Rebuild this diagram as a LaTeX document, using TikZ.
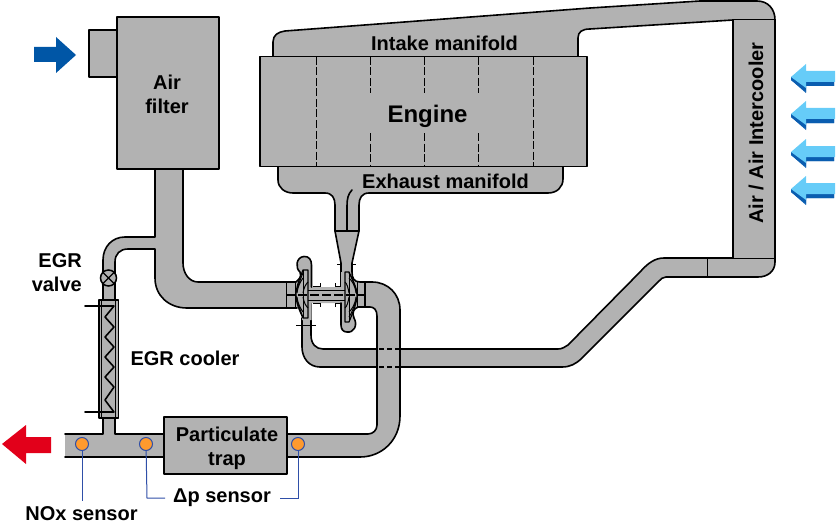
\documentclass[tikz,border=0pt]{standalone}
\usepackage{fontspec}
\setmainfont{Liberation Sans}
\definecolor{pg}{HTML}{B2B2B2}
\definecolor{dblue}{HTML}{0056A6}
\definecolor{lblue}{HTML}{66CCF8}
\definecolor{mblue}{HTML}{0A5DB0}
\definecolor{redarrow}{HTML}{E2001A}
\definecolor{sensorfill}{HTML}{FF9A2E}
\definecolor{sensorline}{HTML}{2F4FA8}
\tikzset{
  pipefill/.style={fill=pg,draw=none},
  edge/.style={draw=black,line width=1.6pt,line cap=round,line join=round},
  thinedge/.style={draw=black,line width=1pt,line cap=butt},
  boxed/.style={fill=pg,draw=black,line width=1.8pt,line join=round,outer sep=0pt},
  dashline/.style={draw=black,line width=1pt,dash pattern=on 8pt off 2.5pt},
  lab/.style={font=\fontsize{20}{23}\selectfont\bfseries,text=black,inner sep=0pt,align=center},
  sensor/.style={circle,fill=sensorfill,draw=sensorline,line width=1pt,minimum size=13pt,inner sep=0pt},
  leadline/.style={draw=sensorline,line width=1pt},
}
\newcommand{\coldarrow}[1]{%
  \fill[mblue,shift={(0,#1)}] (791,0) -- (791,3) -- (806,16) -- (806,5) -- (834,5) -- (834,9) -- (806,9) -- (806,15) -- cycle;
  \fill[mblue,shift={(0,#1)}] (791,0) -- (806,0) -- (834,0) -- (834,9) -- (806,9) -- (806,15) -- (791,3) -- cycle;
  \fill[lblue,shift={(0,#1)}] (791,0) -- (806,-13) -- (806,-6) -- (835,-6) -- (835,5) -- (806,5) -- (806,11) -- cycle;
}
\begin{document}
\begin{tikzpicture}[x=1pt,y=-1pt]
\useasboundingbox (0,0) rectangle (837,524);

% ---- intake manifold, intercooler, charge-air pipe
\fill[pipefill] (273,57) -- (273,42) .. controls (273,35) and (278,32) .. (285,31) -- (590,8) -- (700,1) -- (757,1)
  .. controls (768,1) and (775,9) .. (775,20) -- (775,262) .. controls (775,271) and (768,277) .. (758,277)
  -- (666,277) .. controls (663,277) and (661,279) .. (659,281) -- (582,358) .. controls (576,364) and (570,367) .. (562,367)
  -- (320,367) .. controls (309,367) and (302,358) .. (302,347) -- (302,318) -- (311,318) -- (311,335)
  .. controls (311,344) and (316,349) .. (323,349) -- (558,349) .. controls (562,349) and (565,347) .. (568,345)
  -- (640,272) .. controls (648,263) and (655,258) .. (664,258) -- (733,258) -- (733,20) -- (590,29)
  .. controls (582,29) and (578,32) .. (578,38) -- (578,57) -- cycle;
\draw[edge] (273,57) -- (273,42) .. controls (273,35) and (278,32) .. (285,31) -- (590,8) -- (700,1) -- (757,1)
  .. controls (768,1) and (775,9) .. (775,20) -- (775,262) .. controls (775,271) and (768,277) .. (758,277)
  -- (666,277) .. controls (663,277) and (661,279) .. (659,281) -- (582,358) .. controls (576,364) and (570,367) .. (562,367)
  -- (320,367) .. controls (309,367) and (302,358) .. (302,347) -- (302,318);
\draw[edge] (311,303) -- (311,335)
  .. controls (311,344) and (316,349) .. (323,349) -- (558,349) .. controls (562,349) and (565,347) .. (568,345)
  -- (640,272) .. controls (648,263) and (655,258) .. (664,258) -- (733,258) -- (733,20) -- (590,29)
  .. controls (582,29) and (578,32) .. (578,38) -- (578,57);
\draw[thinedge] (733,20) -- (775,20) (733,258) -- (775,258) (707,258) -- (707,277);

% ---- exhaust manifold and turbine inlet
\fill[pipefill] (278,166) -- (278,180) .. controls (278,188) and (285,193) .. (293,193) -- (325,193)
  .. controls (332,193) and (335,198) .. (335,205) -- (335,231) -- (341,263) -- (341,290) -- (352,290) -- (352,263) -- (359,231)
  -- (359,205) .. controls (359,198) and (362,193) .. (369,193) -- (548,193) .. controls (557,193) and (563,187) .. (563,179) -- (563,166) -- cycle;
\draw[edge] (278,166) -- (278,180) .. controls (278,188) and (285,193) .. (293,193) -- (325,193)
  .. controls (332,193) and (335,198) .. (335,205) -- (335,231) -- (341,263) -- (341,287);
\draw[edge] (563,166) -- (563,179) .. controls (563,187) and (557,193) .. (548,193) -- (369,193)
  .. controls (362,193) and (359,198) .. (359,205) -- (359,231) -- (352,263) -- (352,272);
\draw[edge] (335,231) -- (359,231);
\draw[edge] (352,190) .. controls (348,194) and (347,199) .. (347,206) -- (347,231);
\draw[thinedge] (337,264) -- (341,264) (352,264) -- (356,264);

% ---- engine
\node[boxed,minimum width=327pt,minimum height=110pt,anchor=north west,inner sep=0pt] (engine) at (260,56.5) {};
\foreach \dx in {316,533} \draw[dashline] (\dx,57) -- (\dx,166);
\foreach \dx in {370,424,478} {\draw[dashline] (\dx,57) -- (\dx,93); \draw[dashline] (\dx,133) -- (\dx,166);}

% ---- air filter
\node[boxed,minimum width=28pt,minimum height=47pt,anchor=north west,inner sep=0pt] (snout) at (89,30) {};
\fill[pipefill] (155,169) -- (155,237) -- (125,237) .. controls (112,237) and (103,247) .. (103,260) -- (103,300) -- (115,300)
  -- (115,262) .. controls (115,254) and (120,249) .. (128,249) -- (155,249) -- (155,278) .. controls (155,296) and (169,308) .. (187,308)
  -- (288,308) -- (288,282) -- (198,282) .. controls (189,282) and (183,273) .. (183,263) -- (183,169) -- cycle;
\draw[edge] (155,169) -- (155,237) -- (125,237) .. controls (112,237) and (103,247) .. (103,260) -- (103,300);
\draw[edge] (115,300) -- (115,262) .. controls (115,254) and (120,249) .. (128,249) -- (155,249) -- (155,278)
  .. controls (155,296) and (169,308) .. (187,308) -- (287,308);
\draw[edge] (183,169) -- (183,263) .. controls (183,273) and (189,282) .. (198,282) -- (287,282);
\draw[edge] (287,282) -- (287,308);
\node[boxed,minimum width=102pt,minimum height=152pt,anchor=north west,inner sep=0pt] (filter) at (117,17) {};

% ---- compressor housing
\fill[pipefill] (287,282) -- (296,282) .. controls (299,279) and (302,277) .. (300,272)
  .. controls (295,268) and (296,257) .. (304,256.5) .. controls (309,256) and (311.5,260) .. (311.5,265) -- (311.5,287)
  -- (341,287) -- (341,272) -- (352,272) .. controls (352,278) and (354,282) .. (360,282) -- (365,282) -- (365,307)
  -- (358,307) .. controls (353,309) and (352,313) .. (354,318) .. controls (358,325) and (354,333) .. (347,332)
  .. controls (343,332) and (341,329) .. (341,325) -- (341,303) -- (311.5,303) -- (311.5,320) -- (302,320) -- (302,308) -- (287,308) -- cycle;
\draw[edge] (287,282) -- (296,282) .. controls (299,279) and (302,277) .. (300,272)
  .. controls (295,268) and (296,257) .. (304,256.5) .. controls (309,256) and (311.5,260) .. (311.5,265) -- (311.5,287);
\draw[edge] (287,308) -- (297,308);
\draw[edge] (352,272) .. controls (352,278) and (354,282) .. (360,282) -- (365,282);
\draw[edge] (365,307) -- (358,307) .. controls (353,309) and (352,313) .. (354,318) .. controls (358,325) and (354,333) .. (347,332)
  .. controls (343,332) and (341,329) .. (341,325) -- (341,303);
\draw[thinedge] (295,282) -- (295,308) (296,325) -- (316,325);
\draw[thinedge] (313,286) -- (320,286) -- (320,283) (335,283) -- (335,286) -- (341,286)
  (313,303) -- (320,303) -- (320,307) (335,307) -- (335,303) -- (341,303);

% ---- compressor and turbine wheels
\draw[edge,fill=pg,line width=1.2pt] (303,270) .. controls (299,280) and (296,288) .. (296,295) .. controls (296,302) and (299,310) .. (303,318) -- (308,318) -- (308,270) -- cycle;
\draw[thinedge] (303,270) -- (303,318);
\foreach \sg in {1,-1} {
  \draw[thinedge] (297,{295-\sg*2}) .. controls (298,{295-\sg*10}) and (301,{295-\sg*14}) .. (303,{295-\sg*17});
  \draw[thinedge] (297,{295-\sg*6}) .. controls (299,{295-\sg*11}) and (301,{295-\sg*18}) .. (303,{295-\sg*22});
  \draw[thinedge] (303,{295-\sg*2}) .. controls (304,{295-\sg*8}) and (306,{295-\sg*11}) .. (308,{295-\sg*13});
}
\draw[edge,fill=pg,line width=1.2pt] (349,272) .. controls (353,281) and (357,288) .. (357,295) .. controls (357,303) and (353,312) .. (349,322) -- (345,322) -- (345,272) -- cycle;
\draw[thinedge] (349,272) -- (349,322);
\foreach \sg in {1,-1} {
  \draw[thinedge] (356,{295-\sg*2}) .. controls (355,{295-\sg*10}) and (352,{295-\sg*14}) .. (349,{295-\sg*17});
  \draw[thinedge] (356,{295-\sg*6}) .. controls (354,{295-\sg*11}) and (352,{295-\sg*18}) .. (349,{295-\sg*22});
  \draw[thinedge] (349,{295-\sg*2}) .. controls (348,{295-\sg*8}) and (347,{295-\sg*11}) .. (345,{295-\sg*13});
}
% shaft
\draw[thinedge] (308,290) -- (345,290) (308,300) -- (345,300);
\draw[draw=black,line width=1.3pt,dash pattern=on 9pt off 3pt] (286,295) -- (365,295);
\draw[thinedge] (357,282) -- (357,307);

% ---- exhaust pipe from turbine to trap
\fill[pipefill] (365,282) -- (372,282) .. controls (388,282) and (400,294) .. (400,310) -- (400,416)
  .. controls (400,440) and (382,457) .. (360,457) -- (288,457) -- (288,434) -- (368,434) .. controls (373,434) and (377,430) .. (377,425)
  -- (377,316) .. controls (377,310) and (374,307) .. (370,307) -- (365,307) -- cycle;
\draw[edge] (365,282) -- (372,282) .. controls (388,282) and (400,294) .. (400,310) -- (400,416)
  .. controls (400,440) and (382,457) .. (360,457) -- (288,457);
\draw[edge] (288,434) -- (368,434) .. controls (373,434) and (377,430) .. (377,425)
  -- (377,316) .. controls (377,310) and (374,307) .. (370,307) -- (365,307);
\draw[edge] (365,282) -- (365,307);
\draw[draw=black,line width=1.3pt,dash pattern=on 5pt off 3pt] (379,349) -- (399,349) (379,367) -- (399,367);

% ---- tailpipe, EGR cooler
\fill[pipefill] (65,434) -- (103,434) -- (103,418) -- (115,418) -- (115,434) -- (165,434) -- (165,457) -- (65,457) -- cycle;
\draw[edge] (65,434) -- (103,434) -- (103,418) (115,418) -- (115,434) -- (165,434) (65,457) -- (165,457);
\node[boxed,minimum width=19.5pt,minimum height=118pt,anchor=north west,inner sep=0pt] (cooler) at (99,300) {};
\draw[thinedge] (101.5,300) -- (101.5,418) (115.5,300) -- (115.5,418);
\draw[edge] (85,306) -- (114,306) -- (105,317) -- (114,327) -- (105,337) -- (114,347) -- (105,357) -- (114,367) -- (105,377) -- (114,387) -- (105,400) -- (114,412) -- (85,412);
\node[circle,fill=pg,draw=black,line width=1.5pt,minimum size=16pt,inner sep=0pt] (valve) at (108.5,278) {};
\draw[edge,line width=1.2pt] (valve.north west) -- (valve.south east) (valve.north east) -- (valve.south west);

% ---- trap
\node[boxed,minimum width=123pt,minimum height=57pt,anchor=north west,inner sep=0pt] (trap) at (164,417) {};
\node[lab,anchor=center] (traplabel) at (227,448) {Particulate\\[1pt]trap};

% ---- sensors
\node[sensor] (s1) at (82,444) {};
\node[sensor] (s2) at (146,444) {};
\node[sensor] (s3) at (298,444) {};
\coordinate (n1) at (82,501);
\node[lab,anchor=center] (dp) at (222,498) {Δp sensor};
\draw[leadline] (s1) -- (n1);
\draw[leadline] (s2) -- (147,498) -- (165,498);
\draw[leadline] (s3) -- (298,498) -- (280,498);

% ---- arrows
\fill[dblue] (34,47) -- (56,47) -- (56,37) -- (76,55) -- (56,73) -- (56,62) -- (34,62) -- cycle;
\fill[redarrow] (2,444) -- (26,425) -- (26,437) -- (51,437) -- (51,453) -- (26,453) -- (26,464) -- cycle;
\coldarrow{77}
\coldarrow{114}
\coldarrow{152}
\coldarrow{189}

% ---- labels
\node[lab] (l1) at (444.5,43) {Intake manifold};
\node[lab,font=\fontsize{24}{28}\selectfont\bfseries] (l2) at (427.5,116) {Engine};
\node[lab] (l3) at (445.5,181) {Exhaust manifold};
\node[lab] (l4) at (167,94.5) {Air\\[1pt]filter};
\node[lab,rotate=90] (l5) at (756,133) {Air / Air Intercooler};
\node[lab,align=right,anchor=east] (l6) at (82,272.5) {EGR\\[1pt]valve};
\node[lab] (l7) at (185,358) {EGR cooler};
\node[lab] (l8) at (81.5,514) {NOx sensor};
\end{tikzpicture}
\end{document}
